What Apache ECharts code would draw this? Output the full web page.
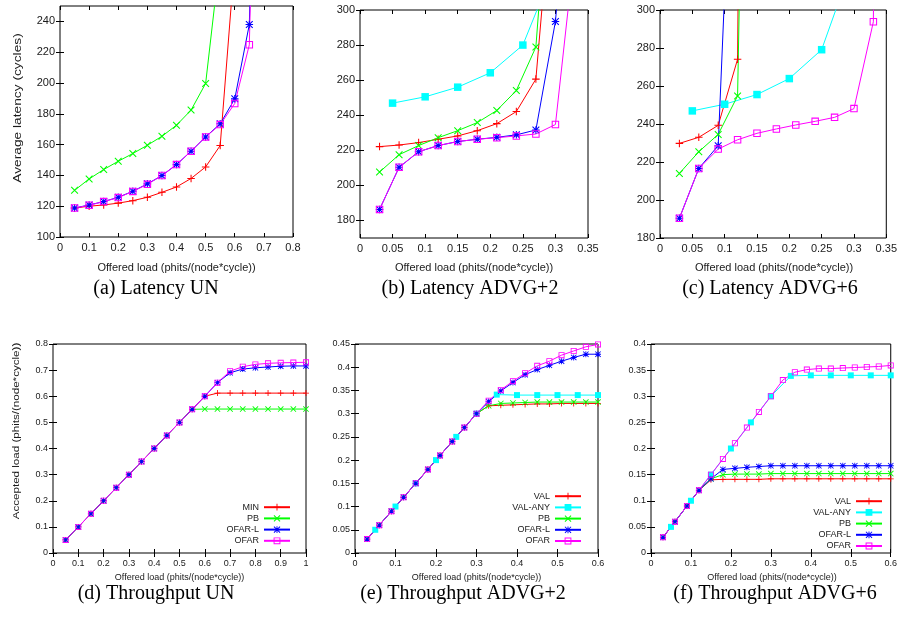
<!DOCTYPE html>
<html>
<head>
<meta charset="utf-8">
<script src="https://cdn.jsdelivr.net/npm/echarts@6/dist/echarts.min.js"></script>
<style>
html,body{margin:0;padding:0;background:#fff;}
#main{width:900px;height:624px;}
</style>
</head>
<body>
<div id="main"></div>
<script>
// offered loads (x values)
var loadUN = [0.05,0.1,0.15,0.2,0.25,0.3,0.35,0.4,0.45,0.5,0.55,0.6,0.65,0.7,0.75,0.8,0.85,0.9,0.95,1.0];
var loadADV = [0.03,0.06,0.09,0.12,0.15,0.18,0.21,0.24,0.27,0.3,0.33,0.36,0.39,0.42,0.45,0.48,0.51,0.54,0.57,0.6];
var loadANY = [0.05,0.1,0.15,0.2,0.25,0.3,0.35,0.4,0.45,0.5,0.55,0.6];

// (a) Latency UN
var latUN_MIN   = [118.8,120,120.8,122,123.6,125.8,129,132.5,138,145.5,159.4,280];
var latUN_PB    = [130.3,137.7,143.8,149.2,154.2,159.6,165.4,172.6,182.4,199.7,282];
var latUN_OFARL = [118.8,120.8,123,125.8,129.7,134.5,139.9,147,155.7,165,173.5,189.7,238,600];
var latUN_OFAR  = [118.8,120.6,123,125.6,129.6,134.2,139.9,147,155.7,165,173,186.7,224.8,600];

// (b) Latency ADVG+2
var latA2_VAL    = [222.1,223,224.4,226.3,228.2,231.2,235.2,242.1,260.6,390];
var latA2_VALANY = [246.9,250.5,256,264.2,280,326];
var latA2_PB     = [207.6,217.5,222.7,227.2,231.2,235.8,242.7,254.1,278.9,426];
var latA2_OFARL  = [186.3,210.3,219.2,222.7,225,226.3,227.4,228.8,231.6,293.5,420];
var latA2_OFAR   = [186.3,210.3,219.2,222.7,225,226.3,227.2,228.2,229.3,234.7,336];

// (c) Latency ADVG+6
var latA6_VAL    = [229.8,233,239.3,274.1,1500];
var latA6_VALANY = [246.9,250.4,255.5,263.9,279.1,327];
var latA6_PB     = [214,225.4,234.5,254.8,800];
var latA6_OFARL  = [190.4,216.6,228.6,470];
var latA6_OFAR   = [190.4,216.6,226.8,231.7,235.1,237.4,239.5,241.4,243.5,248.1,293.8,1500];

// (d) Throughput UN
var thrUN_MIN   = [0.05,0.1,0.15,0.2,0.25,0.3,0.35,0.4,0.45,0.5,0.55,0.6,0.612,0.612,0.612,0.612,0.612,0.612,0.612,0.612];
var thrUN_PB    = [0.05,0.1,0.15,0.2,0.25,0.3,0.35,0.4,0.45,0.5,0.55,0.551,0.551,0.551,0.551,0.551,0.551,0.551,0.551,0.551];
var thrUN_OFARL = [0.05,0.1,0.15,0.2,0.25,0.3,0.35,0.4,0.45,0.5,0.55,0.6,0.652,0.69,0.704,0.709,0.712,0.715,0.716,0.716];
var thrUN_OFAR  = [0.05,0.1,0.15,0.2,0.25,0.3,0.35,0.4,0.45,0.5,0.55,0.6,0.652,0.696,0.713,0.722,0.726,0.728,0.729,0.73];

// (e) Throughput ADVG+2
var thrA2_VAL    = [0.03,0.06,0.09,0.12,0.15,0.18,0.21,0.24,0.27,0.3,0.317,0.318,0.319,0.32,0.321,0.321,0.322,0.322,0.322,0.322];
var thrA2_VALANY = [0.05,0.1,0.15,0.2,0.25,0.3,0.341,0.34,0.34,0.34,0.34,0.34];
var thrA2_PB     = [0.03,0.06,0.09,0.12,0.15,0.18,0.21,0.24,0.27,0.3,0.317,0.322,0.323,0.324,0.325,0.325,0.325,0.325,0.325,0.325];
var thrA2_OFARL  = [0.03,0.06,0.09,0.12,0.15,0.18,0.21,0.24,0.27,0.3,0.326,0.349,0.367,0.384,0.395,0.404,0.413,0.421,0.428,0.428];
var thrA2_OFAR   = [0.03,0.06,0.09,0.12,0.15,0.18,0.21,0.24,0.27,0.3,0.328,0.351,0.37,0.387,0.403,0.413,0.426,0.435,0.444,0.449];

// (f) Throughput ADVG+6
var thrA6_VAL    = [0.03,0.06,0.09,0.12,0.14,0.141,0.141,0.141,0.141,0.142,0.142,0.142,0.142,0.142,0.142,0.142,0.142,0.142,0.142,0.142];
var thrA6_VALANY = [0.05,0.1,0.15,0.2,0.25,0.3,0.339,0.34,0.34,0.34,0.34,0.34];
var thrA6_PB     = [0.03,0.06,0.09,0.12,0.142,0.15,0.151,0.151,0.151,0.152,0.152,0.152,0.152,0.152,0.152,0.152,0.152,0.152,0.152,0.152];
var thrA6_OFARL  = [0.03,0.06,0.09,0.12,0.142,0.16,0.162,0.164,0.1655,0.167,0.167,0.167,0.167,0.167,0.167,0.167,0.167,0.167,0.167,0.167];
var thrA6_OFAR   = [0.03,0.06,0.09,0.12,0.15,0.18,0.21,0.24,0.27,0.3,0.331,0.346,0.351,0.353,0.353,0.354,0.355,0.356,0.357,0.359];

// tick labels
var ticksLatUN_x  = [0,0.1,0.2,0.3,0.4,0.5,0.6,0.7,0.8];
var ticksLatUN_y  = [100,120,140,160,180,200,220,240];
var ticksLatADV_x = [0,0.05,0.1,0.15,0.2,0.25,0.3,0.35];
var ticksLatA2_y  = [180,200,220,240,260,280,300];
var ticksLatA6_y  = [180,200,220,240,260,280,300];
var ticksThrUN_x  = [0,0.1,0.2,0.3,0.4,0.5,0.6,0.7,0.8,0.9,1];
var ticksThrUN_y  = [0,0.1,0.2,0.3,0.4,0.5,0.6,0.7,0.8];
var ticksThrADV_x = [0,0.1,0.2,0.3,0.4,0.5,0.6];
var ticksThrA2_y  = [0,0.05,0.1,0.15,0.2,0.25,0.3,0.35,0.4,0.45];
var ticksThrA6_y  = [0,0.05,0.1,0.15,0.2,0.25,0.3,0.35,0.4];

var captions = ['(a) Latency UN','(b) Latency ADVG+2','(c) Latency ADVG+6',
                '(d) Throughput UN','(e) Throughput ADVG+2','(f) Throughput ADVG+6'];

// gnuplot style point types
var P_PLUS  = 'path://M0,4.3L10,4.3L10,5.7L0,5.7Z M4.3,0L5.7,0L5.7,10L4.3,10Z';
var P_CROSS = 'path://M0,1L1,0L10,9L9,10Z M10,1L1,10L0,9L9,0Z';
var P_STAR  = 'path://M0,4.3L10,4.3L10,5.7L0,5.7Z M4.3,0L5.7,0L5.7,10L4.3,10Z M0,1L1,0L10,9L9,10Z M10,1L1,10L0,9L9,0Z';
var P_BOX   = 'path://M0,0L10,0L10,10L0,10Z M1.4,1.4L1.4,8.6L8.6,8.6L8.6,1.4Z';
var P_FBOX  = 'rect';

var styles = {
    'MIN':     {color:'#ff0000', symbol:P_PLUS},
    'VAL':     {color:'#ff0000', symbol:P_PLUS},
    'VAL-ANY': {color:'#00ffff', symbol:P_FBOX},
    'PB':      {color:'#00ff00', symbol:P_CROSS},
    'OFAR-L':  {color:'#0000ff', symbol:P_STAR},
    'OFAR':    {color:'#ff00ff', symbol:P_BOX}
};

var panels = [
    {left:60,  top:6,   width:233, height:231, x:[0,0.8],  xt:ticksLatUN_x,  y:[100,250], yt:ticksLatUN_y, fs:11, ss:7.5},
    {left:360, top:10,  width:228, height:228, x:[0,0.35], xt:ticksLatADV_x, y:[170,300], yt:ticksLatA2_y, fs:11, ss:7.5},
    {left:660, top:10,  width:228, height:228, x:[0,0.35], xt:ticksLatADV_x, y:[180,300], yt:ticksLatA6_y, fs:11, ss:7.5},
    {left:53,  top:344, width:253, height:209, x:[0,1],    xt:ticksThrUN_x,  y:[0,0.8],   yt:ticksThrUN_y, fs:9, ss:6},
    {left:355, top:344, width:243, height:209, x:[0,0.6],  xt:ticksThrADV_x, y:[0,0.45],  yt:ticksThrA2_y, fs:9, ss:6},
    {left:651, top:344, width:242, height:209, x:[0,0.6],  xt:ticksThrADV_x, y:[0,0.4],   yt:ticksThrA6_y, fs:9, ss:6}
];

function extend(a, b){ for (var k in b) a[k] = b[k]; return a; }

var grids = [], xAxes = [], yAxes = [], series = [], graphics = [];
function tickStyle(vals){
    return {inside:true, length:4, customValues:vals, lineStyle:{color:'#000', width:1}};
}

panels.forEach(function(p, i){
    grids.push({left:p.left, top:p.top, width:p.width, height:p.height, show:true,
        borderColor:'#000', borderWidth:1, backgroundColor:'transparent'});
    var lab = {fontFamily:'Liberation Sans', fontSize:p.fs, color:'#1a1a1a'};
    xAxes.push({type:'value', gridIndex:i, min:p.x[0], max:p.x[1], position:'bottom',
        axisLine:{show:false}, splitLine:{show:false},
        axisTick:tickStyle(p.xt),
        axisLabel:extend({customValues:p.xt, margin:(i < 3 ? 5 : 6)}, lab)});
    xAxes.push({type:'value', gridIndex:i, min:p.x[0], max:p.x[1], position:'top',
        axisLine:{show:false}, splitLine:{show:false},
        axisTick:tickStyle(p.xt),
        axisLabel:{show:false, customValues:p.xt}});
    yAxes.push({type:'value', gridIndex:i, min:p.y[0], max:p.y[1], position:'left',
        axisLine:{show:false}, splitLine:{show:false},
        axisTick:tickStyle(p.yt),
        axisLabel:extend({customValues:p.yt, margin:5}, lab)});
    yAxes.push({type:'value', gridIndex:i, min:p.y[0], max:p.y[1], position:'right',
        axisLine:{show:false}, splitLine:{show:false},
        axisTick:tickStyle(p.yt),
        axisLabel:{show:false, customValues:p.yt}});
    // x title
    graphics.push({type:'text', x:p.left + p.width/2, y:(i < 3 ? 268 : 578), silent:true,
        style:{text:'Offered load (phits/(node*cycle))', textAlign:'center', textVerticalAlign:'middle',
            font:(i < 3 ? 11 : 9) + 'px "Liberation Sans"', fill:'#1a1a1a'}});
    // caption
    graphics.push({type:'text', x:[156,470,770,156,463,775][i], y:(i < 3 ? 289 : 594), silent:true,
        style:{text:captions[i], textAlign:'center', textVerticalAlign:'middle',
            font:'20px "Liberation Serif"', fill:'#000'}});
});

// y titles (the source figure is a bit stretched vertically)
graphics.push({type:'text', x:18, y:108, rotation:Math.PI/2, scaleX:1.25, silent:true,
    style:{text:'Average latency (cycles)', textAlign:'center', textVerticalAlign:'middle',
        font:'11px "Liberation Sans"', fill:'#1a1a1a'}});
graphics.push({type:'text', x:16, y:431, rotation:Math.PI/2, scaleX:1.22, silent:true,
    style:{text:'Accepted load (phits/(node*cycle))', textAlign:'center', textVerticalAlign:'middle',
        font:'9.5px "Liberation Sans"', fill:'#1a1a1a'}});

function addLine(name, p, xs, ys){
    var st = styles[name];
    series.push({
        type:'line', name:name, xAxisIndex:2*p, yAxisIndex:2*p,
        data:ys.map(function(v, k){ return [xs[k], v]; }),
        symbol:st.symbol, symbolSize:panels[p].ss, showSymbol:true, showAllSymbol:true,
        clip:true, silent:true, animation:false,
        lineStyle:{color:st.color, width:1},
        itemStyle:{color:st.color, borderWidth:0},
        emphasis:{disabled:true}
    });
}

addLine('MIN', 0, loadUN, latUN_MIN);
addLine('PB', 0, loadUN, latUN_PB);
addLine('OFAR-L', 0, loadUN, latUN_OFARL);
addLine('OFAR', 0, loadUN, latUN_OFAR);

addLine('VAL', 1, loadADV, latA2_VAL);
addLine('VAL-ANY', 1, loadANY, latA2_VALANY);
addLine('PB', 1, loadADV, latA2_PB);
addLine('OFAR-L', 1, loadADV, latA2_OFARL);
addLine('OFAR', 1, loadADV, latA2_OFAR);

addLine('VAL', 2, loadADV, latA6_VAL);
addLine('VAL-ANY', 2, loadANY, latA6_VALANY);
addLine('PB', 2, loadADV, latA6_PB);
addLine('OFAR-L', 2, loadADV, latA6_OFARL);
addLine('OFAR', 2, loadADV, latA6_OFAR);

addLine('MIN', 3, loadUN, thrUN_MIN);
addLine('PB', 3, loadUN, thrUN_PB);
addLine('OFAR-L', 3, loadUN, thrUN_OFARL);
addLine('OFAR', 3, loadUN, thrUN_OFAR);

addLine('VAL', 4, loadADV, thrA2_VAL);
addLine('VAL-ANY', 4, loadANY, thrA2_VALANY);
addLine('PB', 4, loadADV, thrA2_PB);
addLine('OFAR-L', 4, loadADV, thrA2_OFARL);
addLine('OFAR', 4, loadADV, thrA2_OFAR);

addLine('VAL', 5, loadADV, thrA6_VAL);
addLine('VAL-ANY', 5, loadANY, thrA6_VALANY);
addLine('PB', 5, loadADV, thrA6_PB);
addLine('OFAR-L', 5, loadADV, thrA6_OFARL);
addLine('OFAR', 5, loadADV, thrA6_OFAR);

function legendAt(names, right, top){
    return {data:names, orient:'vertical', right:right, top:top, align:'right', padding:0,
        itemWidth:26, itemHeight:8.5, itemGap:2.2, selectedMode:false,
        textStyle:{fontFamily:'Liberation Sans', fontSize:9, color:'#1a1a1a'}};
}

var myChart = echarts.init(document.getElementById('main'), null, {renderer:'canvas'});
var option = {
    animation:false,
    backgroundColor:'#fff',
    grid:grids,
    xAxis:xAxes,
    yAxis:yAxes,
    legend:[
        legendAt(['MIN','PB','OFAR-L','OFAR'], 609, 502.7),
        legendAt(['VAL','VAL-ANY','PB','OFAR-L','OFAR'], 318, 491.7),
        legendAt(['VAL','VAL-ANY','PB','OFAR-L','OFAR'], 17, 496.7)
    ],
    graphic:graphics,
    series:series
};
myChart.setOption(option);
</script>
</body>
</html>
